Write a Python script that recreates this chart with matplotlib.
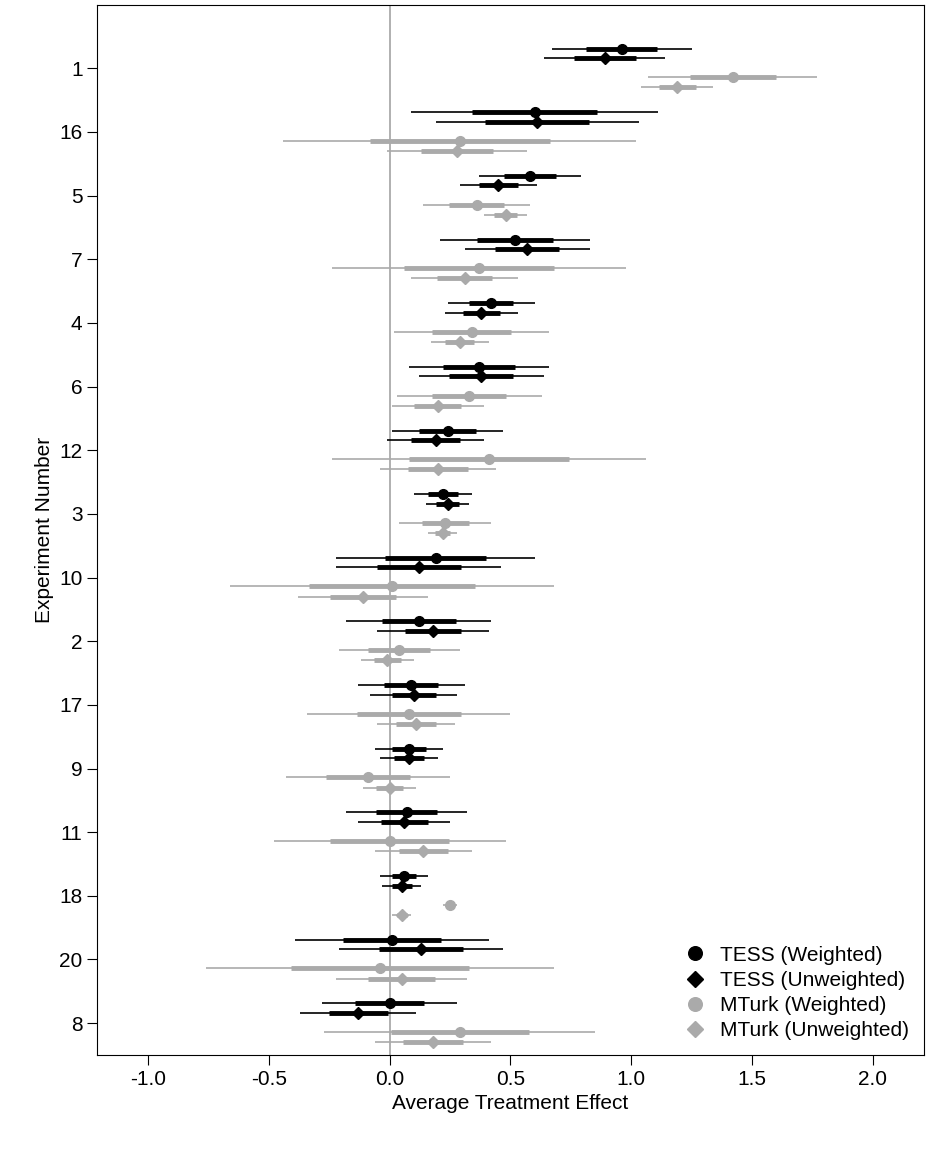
import numpy as np
import matplotlib
matplotlib.use("Agg")
import matplotlib.pyplot as plt

plt.rcParams['font.family'] = ['Liberation Sans', 'DejaVu Sans']
plt.rcParams['axes.unicode_minus'] = False

experiments = ["1", "16", "5", "7", "4", "6", "12", "3", "10", "2", "17", "9", "11", "18", "20", "8"]

# point estimates and 95% half-widths, per series
tess_w = [0.96, 0.60, 0.58, 0.52, 0.42, 0.37, 0.24, 0.22, 0.19, 0.12, 0.09, 0.08, 0.07, 0.06, 0.01, 0.00]
tess_w_ci = [0.29, 0.51, 0.21, 0.31, 0.18, 0.29, 0.23, 0.12, 0.41, 0.30, 0.22, 0.14, 0.25, 0.10, 0.40, 0.28]
tess_u = [0.89, 0.61, 0.45, 0.57, 0.38, 0.38, 0.19, 0.24, 0.12, 0.18, 0.10, 0.08, 0.06, 0.05, 0.13, -0.13]
tess_u_ci = [0.25, 0.42, 0.16, 0.26, 0.15, 0.26, 0.20, 0.09, 0.34, 0.23, 0.18, 0.12, 0.19, 0.08, 0.34, 0.24]
mturk_w = [1.42, 0.29, 0.36, 0.37, 0.34, 0.33, 0.41, 0.23, 0.01, 0.04, 0.08, -0.09, 0.00, 0.25, -0.04, 0.29]
mturk_w_ci = [0.35, 0.73, 0.22, 0.61, 0.32, 0.30, 0.65, 0.19, 0.67, 0.25, 0.42, 0.34, 0.48, 0.03, 0.72, 0.56]
mturk_u = [1.19, 0.28, 0.48, 0.31, 0.29, 0.20, 0.20, 0.22, -0.11, -0.01, 0.11, 0.00, 0.14, 0.05, 0.05, 0.18]
mturk_u_ci = [0.15, 0.29, 0.09, 0.22, 0.12, 0.19, 0.24, 0.06, 0.27, 0.11, 0.16, 0.11, 0.20, 0.04, 0.27, 0.24]

grey = "#aaaaaa"
series = [
    ("TESS (Weighted)", tess_w, tess_w_ci, "black", "o", -0.31),
    ("TESS (Unweighted)", tess_u, tess_u_ci, "black", "D", -0.16),
    ("MTurk (Weighted)", mturk_w, mturk_w_ci, grey, "o", 0.14),
    ("MTurk (Unweighted)", mturk_u, mturk_u_ci, grey, "D", 0.30),
]

fig = plt.figure(figsize=(9.34, 11.67), dpi=100)
ax = fig.add_axes([0.104, 0.096, 0.885, 0.90])
ax.axvline(0, color=grey, lw=1.3, zorder=0)

pos = np.arange(1, len(experiments) + 1)
for label, est, ci, col, mk, off in series:
    est = np.array(est)
    ci = np.array(ci)
    y = pos + off
    ax.hlines(y, est - ci, est + ci, color=col, lw=1.2)
    ax.hlines(y, est - ci / 1.96, est + ci / 1.96, color=col, lw=3.5)
    ax.plot(est, y, mk, color=col, ms=7 if mk == "o" else 6, ls="none", label=label)

ax.set_xlim(-1.21, 2.21)
ax.set_ylim(16.5, 0.0)
ax.set_xticks([-1.0, -0.5, 0.0, 0.5, 1.0, 1.5, 2.0])
ax.set_yticks(pos)
ax.set_yticklabels(experiments)
ax.tick_params(labelsize=15, length=7)
ax.set_xlabel("Average Treatment Effect", fontsize=15)
ax.set_ylabel("Experiment Number", fontsize=15)
ax.legend(loc="lower right", frameon=False, fontsize=15, handletextpad=0.2,
          borderaxespad=0.3, labelspacing=0.3, markerscale=1.4)

fig.savefig("out.png", dpi=100)
